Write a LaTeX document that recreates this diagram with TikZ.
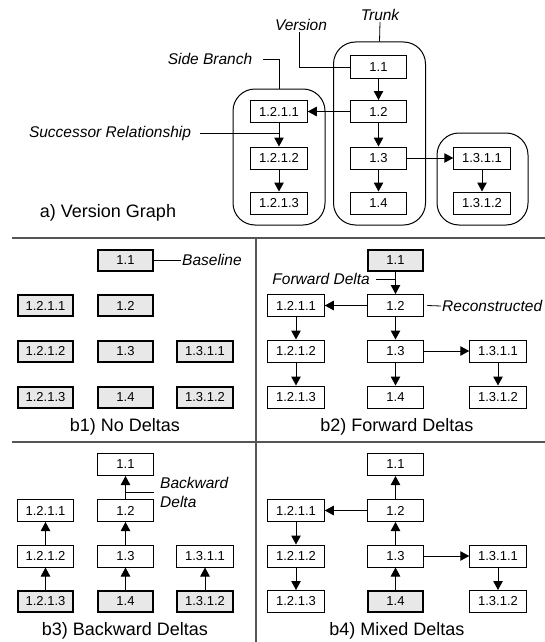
\documentclass[tikz,border=0pt]{standalone}
\usepackage{fontspec}
\setmainfont{Liberation Sans}
\usetikzlibrary{arrows.meta}
\definecolor{boxgrey}{HTML}{E8E8E8}
\definecolor{divgrey}{HTML}{555555}
\tikzset{
 ver/.style={draw, line width=1pt, minimum width=56.5pt, minimum height=22pt, inner sep=0pt, font=\fontsize{13}{15}\selectfont},
 verT/.style={ver, minimum height=22pt},
 base/.style={ver, fill=boxgrey, line width=2pt, minimum width=55.5pt, minimum height=21pt},
 arr/.style={-{Triangle[length=9pt,width=9.5pt]}, line width=1pt},
 lead/.style={line width=0.8pt},
 lbl/.style={font=\fontsize{15.5}{19}\selectfont\itshape, inner sep=1pt},
 captxt/.style={font=\fontsize{18}{20}\selectfont, inner sep=0pt},
 grp/.style={draw, line width=1pt, rounded corners=22pt, inner sep=0pt},
 divider/.style={draw=divgrey, line width=1.3pt}
}
\begin{document}
\begin{tikzpicture}[x=1pt,y=-1pt]
\useasboundingbox (0,0) rectangle (545,642);
% ---------- a) Version graph ----------
\node[verT] (t11) at (378.5,67) {1.1};
\node[verT] (t12) at (378.5,111.5) {1.2};
\node[verT] (t13) at (378.5,158) {1.3};
\node[verT] (t14) at (378.5,203) {1.4};
\node[verT] (s1) at (279,111.5) {1.2.1.1};
\node[verT] (s2) at (279,158) {1.2.1.2};
\node[verT] (s3) at (279,203) {1.2.1.3};
\node[verT] (r1) at (482,158) {1.3.1.1};
\node[verT] (r2) at (482,203) {1.3.1.2};
\node[grp, minimum width=92pt, minimum height=183pt] (trunk) at (379.5,133.5) {};
\node[grp, minimum width=92pt, minimum height=136pt] (side) at (279,157) {};
\node[grp, minimum width=91pt, minimum height=92pt] (right) at (482.5,179) {};
\draw[arr] (t11) -- (t12);
\draw[arr] (t12) -- (t13);
\draw[arr] (t13) -- (t14);
\draw[arr] (t12) -- (s1);
\draw[arr] (s1) -- (s2);
\draw[arr] (s2) -- (s3);
\draw[arr] (t13) -- (r1);
\draw[arr] (r1) -- (r2);
\node[lbl] (trlbl) at (380,15) {Trunk};
\draw[lead] (trlbl.south) -- (trunk.north);
\node[lbl] (verlbl) at (301,25) {Version};
\draw[lead] ([xshift=-1.5pt]verlbl.south) |- (t11.west);
\node[lbl] (sblbl) at (210,59) {Side Branch};
\coordinate (sbk) at (279,59);
\draw[lead] ([xshift=10pt]sblbl.east) -- (sbk) -- (side.north);
\node[lbl] (suclbl) at (110,133) {Successor Relationship};
\draw[lead] ([xshift=8pt]suclbl.east) -- (suclbl.east -| s1.south);
\node[captxt] (capa) at (108,213) {a) Version Graph};
% ---------- dividers ----------
\coordinate (hl1) at (12,238);
\coordinate (hr1) at (545,238);
\coordinate (hl2) at (12,442);
\coordinate (hr2) at (545,442);
\coordinate (vt) at (256,238);
\coordinate (vb) at (256,642);
\draw[divider] (hl1) -- (hr1);
\draw[divider] (hl2) -- (hr2);
\draw[divider] (vt) -- (vb);
% ---------- b1) No deltas ----------
\node[base] (a11) at (125.5,260) {1.1};
\node[base] (a12) at (125.5,305.5) {1.2};
\node[base] (a13) at (125.5,351) {1.3};
\node[base] (a14) at (125.5,397) {1.4};
\node[base] (as1) at (45.5,305.5) {1.2.1.1};
\node[base] (as2) at (45.5,351) {1.2.1.2};
\node[base] (as3) at (45.5,397) {1.2.1.3};
\node[base] (ar1) at (205,351) {1.3.1.1};
\node[base] (ar2) at (205,397) {1.3.1.2};
\node[lbl, anchor=west] (bllbl) at (181,260) {Baseline};
\draw[lead] (a11.east) -- (bllbl.west);
\node[captxt] (capb1) at (125,427) {b1) No Deltas};
% ---------- b2) Forward deltas ----------
\node[base] (b11) at (395.5,260) {1.1};
\node[ver] (b12) at (395.5,305.5) {1.2};
\node[ver] (b13) at (395.5,351) {1.3};
\node[ver] (b14) at (395.5,397) {1.4};
\node[ver] (bs1) at (296,305.5) {1.2.1.1};
\node[ver] (bs2) at (296,351) {1.2.1.2};
\node[ver] (bs3) at (296,397) {1.2.1.3};
\node[ver] (br1) at (498,351) {1.3.1.1};
\node[ver] (br2) at (498,397) {1.3.1.2};
\draw[arr] (b11) -- (b12);
\draw[arr] (b12) -- (b13);
\draw[arr] (b13) -- (b14);
\draw[arr] (b12) -- (bs1);
\draw[arr] (bs1) -- (bs2);
\draw[arr] (bs2) -- (bs3);
\draw[arr] (b13) -- (br1);
\draw[arr] (br1) -- (br2);
\node[lbl, anchor=east] (fdlbl) at (371,279) {Forward Delta};
\coordinate (fdk) at (395.5,279);
\draw[lead] ([xshift=5pt]fdlbl.east) -- (fdk);
\node[lbl, anchor=west] (rclbl) at (441,306) {Reconstructed};
\draw[lead] ([xshift=3pt]b12.east) -- (rclbl.west);
\node[captxt] (capb2) at (397,427) {b2) Forward Deltas};
% ---------- b3) Backward deltas ----------
\node[ver] (c11) at (125.5,464.5) {1.1};
\node[ver] (c12) at (125.5,510.5) {1.2};
\node[ver] (c13) at (125.5,556) {1.3};
\node[base] (c14) at (125.5,601.5) {1.4};
\node[ver] (cs1) at (45.5,510.5) {1.2.1.1};
\node[ver] (cs2) at (45.5,556) {1.2.1.2};
\node[base] (cs3) at (45.5,601.5) {1.2.1.3};
\node[ver] (cr1) at (205,556) {1.3.1.1};
\node[base] (cr2) at (205,601.5) {1.3.1.2};
\draw[arr] (c12) -- (c11);
\draw[arr] (c13) -- (c12);
\draw[arr] (c14) -- (c13);
\draw[arr] (cs2) -- (cs1);
\draw[arr] (cs3) -- (cs2);
\draw[arr] (cr2) -- (cr1);
\node[lbl, anchor=west, align=left] (bdlbl) at (159,492) {Backward\\Delta};
\coordinate (bdk) at (125.5,492);
\coordinate (bde) at (154,492);
\draw[lead] (bdk) -- (bde);
\node[captxt] (capb3) at (125,631) {b3) Backward Deltas};
% ---------- b4) Mixed deltas ----------
\node[ver] (d11) at (395.5,464.5) {1.1};
\node[ver] (d12) at (395.5,510.5) {1.2};
\node[ver] (d13) at (395.5,556) {1.3};
\node[base] (d14) at (395.5,601.5) {1.4};
\node[ver] (ds1) at (296,510.5) {1.2.1.1};
\node[ver] (ds2) at (296,556) {1.2.1.2};
\node[ver] (ds3) at (296,601.5) {1.2.1.3};
\node[ver] (dr1) at (498,556) {1.3.1.1};
\node[ver] (dr2) at (498,601.5) {1.3.1.2};
\draw[arr] (d12) -- (d11);
\draw[arr] (d13) -- (d12);
\draw[arr] (d14) -- (d13);
\draw[arr] (d12) -- (ds1);
\draw[arr] (ds1) -- (ds2);
\draw[arr] (ds2) -- (ds3);
\draw[arr] (d13) -- (dr1);
\draw[arr] (dr1) -- (dr2);
\node[captxt] (capb4) at (397,631) {b4) Mixed Deltas};
\end{tikzpicture}
\end{document}
